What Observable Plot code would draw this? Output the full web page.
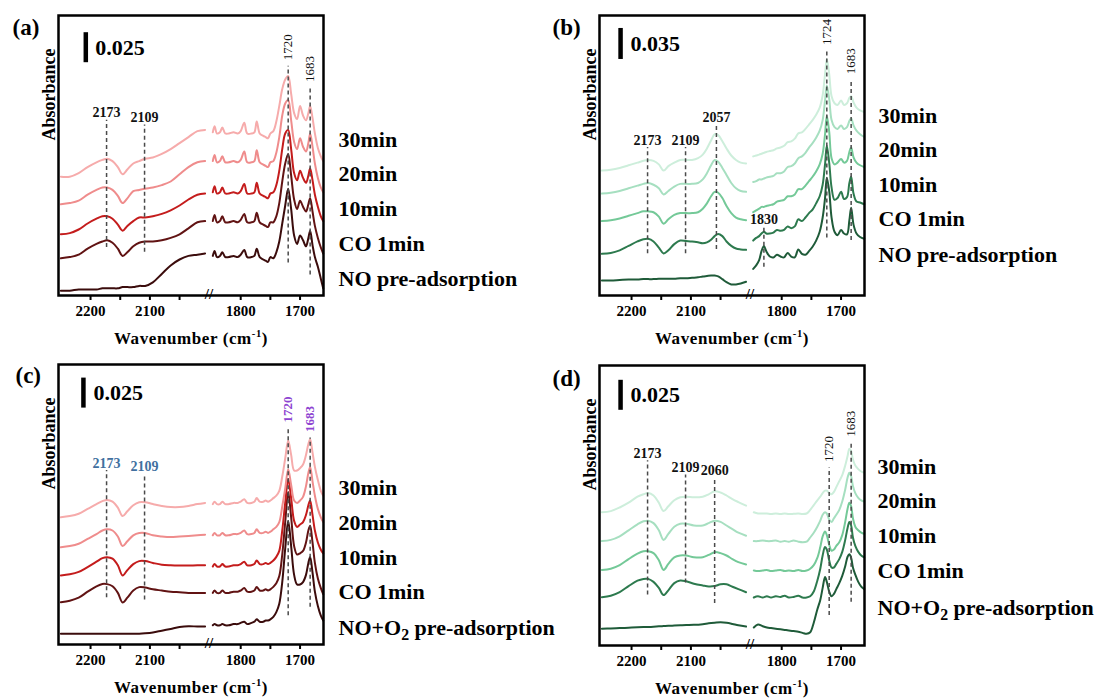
<!DOCTYPE html>
<html>
<head>
<meta charset="utf-8">
<script src="https://cdn.jsdelivr.net/npm/d3@7"></script>
<script src="https://cdn.jsdelivr.net/npm/@observablehq/plot@0.6"></script>
<style>
  html, body { margin: 0; padding: 0; background: #fff; overflow: hidden; }
  #fig { position: relative; width: 1102px; height: 698px; overflow: hidden; background: #fff; }
  .panel { position: absolute; }
</style>
</head>
<body>
<div id="fig"></div>
<script>
// ---------- shared axis values and series names ----------
const tickValues = [2200, 2150, 2100, 2050, 1800, 1750, 1700];
const tickLabels = [2200, 2100, 1800, 1700];
const seriesNO = ["30min", "20min", "10min", "CO 1min", "NO pre-adsorption"];
const seriesNOO2 = ["30min", "20min", "10min", "CO 1min", "NO+O₂ pre-adsorption"];

// absorbance values below are in units of 0.001 (stacked spectra)

// ---------- (a) ----------
const wnLeftA = [2250, 2235, 2220, 2205, 2190, 2180, 2172, 2163, 2154, 2146, 2138, 2128, 2118, 2108, 2095, 2080, 2065, 2050, 2035, 2020, 2007];
const wnRightA = [1847, 1844, 1840, 1835, 1831, 1826, 1820, 1812, 1805, 1800, 1794, 1789, 1782, 1777, 1773, 1768, 1762, 1758, 1754, 1750, 1745, 1740, 1735, 1730, 1725, 1720, 1715, 1710, 1705, 1700, 1695, 1690, 1686, 1683, 1679, 1675, 1670, 1665, 1661];
const a30L = [99, 99, 102, 107, 111, 113, 114, 112, 107, 101, 105, 110, 112, 114, 115, 118, 122, 127, 132, 137, 138];
const a20L = [76, 77, 79, 84, 88, 90, 90, 88, 83, 77, 81, 87, 88, 89, 90, 92, 95, 101, 107, 111, 112];
const a10L = [51, 52, 55, 60, 64, 66, 66, 64, 59, 54, 58, 62, 65, 65, 66, 68, 71, 75, 80, 84, 85];
const aCOL = [31, 32, 34, 39, 43, 45, 46, 44, 39, 33, 36, 41, 44, 45, 45, 46, 48, 51, 56, 61, 62];
const aNOL = [4, 4, 5, 5, 5, 6, 6, 6, 6, 7, 7, 7, 8, 8, 11, 18, 25, 30, 33, 34, 35];
const a30R = [136, 141, 135, 136, 140, 135, 135, 136, 135, 137, 144, 135, 135, 136, 145, 135, 133, 132, 131, 135, 137, 145, 158, 172, 180, 183, 168, 152, 147, 158, 150, 146, 152, 158, 148, 135, 123, 116, 112];
const a20R = [112, 117, 111, 112, 116, 111, 111, 112, 111, 113, 120, 111, 111, 112, 121, 111, 109, 108, 107, 111, 112, 119, 132, 150, 160, 163, 146, 128, 122, 131, 124, 120, 127, 135, 124, 110, 98, 90, 86];
const a10R = [86, 91, 85, 86, 90, 85, 85, 86, 85, 87, 93, 85, 85, 86, 94, 85, 83, 82, 81, 85, 86, 92, 104, 122, 135, 138, 122, 102, 96, 104, 98, 94, 100, 106, 96, 84, 74, 66, 62];
const aCOR = [62, 67, 61, 62, 66, 61, 61, 62, 61, 63, 68, 61, 61, 62, 69, 61, 59, 58, 57, 61, 61, 66, 77, 95, 110, 118, 100, 80, 72, 79, 74, 70, 76, 81, 70, 58, 48, 40, 35];
const aNOR = [33, 37, 32, 33, 36, 32, 32, 33, 32, 34, 38, 32, 32, 33, 39, 32, 30, 29, 28, 32, 31, 36, 45, 60, 75, 89, 72, 50, 43, 50, 46, 41, 48, 54, 42, 32, 24, 14, 6];
const peaksA = [2173, 2109, 1720, 1683];
const scaleA = 0.025;

// ---------- (b) ----------
const wnLeftB = [2250, 2235, 2220, 2205, 2190, 2180, 2172, 2163, 2154, 2146, 2138, 2128, 2118, 2108, 2098, 2088, 2080, 2073, 2066, 2060, 2054, 2047, 2040, 2032, 2024, 2016, 2007];
const wnRightB = [1848, 1843, 1838, 1834, 1830, 1826, 1820, 1814, 1808, 1802, 1796, 1790, 1784, 1778, 1772, 1766, 1760, 1754, 1748, 1742, 1736, 1731, 1727, 1724, 1720, 1716, 1711, 1706, 1700, 1695, 1690, 1686, 1683, 1679, 1674, 1668, 1661];
const b30L = [141, 142, 144, 147, 150, 152, 153, 152, 148, 141, 146, 150, 153, 153, 153, 155, 159, 166, 175, 182, 181, 174, 166, 158, 153, 150, 149];
const b20L = [115, 116, 118, 121, 124, 126, 127, 125, 121, 114, 118, 123, 126, 126, 126, 127, 131, 138, 147, 153, 151, 144, 136, 127, 121, 118, 117];
const b10L = [84, 85, 87, 90, 93, 95, 95, 94, 89, 81, 86, 91, 93, 93, 93, 94, 98, 104, 112, 117, 116, 110, 101, 93, 88, 86, 85];
const bCOL = [47, 48, 51, 56, 61, 63.5, 64, 61, 54, 47.5, 51, 58, 62, 61.5, 61, 60, 59, 60, 63, 67, 69.5, 67, 61, 56, 53, 52, 51.5];
const bNOL = [17, 17, 17.5, 18, 18, 18.5, 18.5, 18.5, 19, 19, 19, 19, 19.5, 19.5, 20, 20.5, 21.5, 22, 22.5, 22.5, 21.5, 18.5, 15, 12.5, 12.5, 13.5, 15.5];
const b30R = [157, 158, 159, 160, 161, 162, 163, 164, 166, 167, 169, 173, 174, 177, 183, 184, 188, 193, 198, 204, 212, 226, 250, 267, 250, 225, 217, 215, 220, 215, 217, 223, 225, 218, 212, 209, 207];
const b20R = [128, 129, 131, 131, 132, 133, 134, 135, 138, 138, 140, 145, 146, 149, 155, 157, 161, 167, 172, 178, 186, 198, 220, 237, 222, 198, 190, 188, 192, 188, 190, 197, 200, 192, 186, 182, 179];
const b10R = [94, 96, 98, 100, 100, 101, 102, 103, 106, 107, 108, 112, 112, 114, 120, 120, 124, 129, 134, 140, 148, 160, 182, 203, 185, 155, 148, 150, 154, 150, 152, 162, 167, 156, 150, 147, 145];
const bCOR = [62, 65, 67, 70, 72, 70, 70, 71, 74, 73, 74, 78, 76, 78, 86, 84, 88, 93, 97, 104, 112, 125, 148, 169, 150, 122, 108, 110, 117, 109, 111, 127, 134, 115, 106, 105, 103];
const bNOR = [30, 34, 40, 50, 56, 50, 44, 43, 46, 44, 43, 48, 44, 43, 52, 47, 46, 50, 55, 62, 72, 88, 110, 133, 118, 88, 72, 68, 74, 70, 69, 85, 99, 80, 70, 66, 64];
const peaksB = [2173, 2109, 2057, 1830, 1724, 1683];
const scaleB = 0.035;

// ---------- (c) ----------
const wnLeftC = wnLeftA;
const wnRightC = wnRightA;
const c30L = [106, 107, 109, 113, 117, 119.5, 120.5, 119, 114, 107, 111, 116, 118.5, 118.5, 117, 115.5, 114.5, 114.5, 115.5, 117, 118];
const c20L = [81, 82, 84, 88, 92, 95, 96, 95, 90, 82, 86, 91, 93, 93, 91, 90, 89.5, 90, 90.5, 91, 91.5];
const c10L = [57.5, 58.5, 60.5, 64.5, 69, 72, 72.8, 71.5, 66, 57.5, 62, 67, 69.5, 69.5, 68, 66.5, 66, 65.8, 65.8, 66, 66];
const cCOL = [35.3, 36.5, 39, 44, 48.5, 50.5, 50.3, 48.5, 43, 35, 39, 45, 47.8, 47.5, 46, 45, 44, 43.5, 43, 43, 43];
const cNOL = [9, 9, 9, 9, 9, 9, 9, 9, 9, 9, 9, 9, 9, 9.3, 10, 11.5, 13, 14.5, 15.2, 15, 15];
const c30R = [117, 119, 117, 117, 119, 117, 117, 118, 118, 119, 121, 118, 118, 119, 122, 119, 119, 120, 119, 120, 122, 124, 128, 140, 155, 170, 158, 145, 145, 147, 150, 158, 167, 171, 160, 148, 137, 128, 124];
const c20R = [91, 93, 91, 91, 93, 91, 91, 92, 92, 93, 95, 92, 92, 93, 96, 93, 93, 94, 93, 94, 96, 98, 102, 115, 130, 146, 133, 120, 118, 120, 123, 132, 143, 148, 136, 124, 113, 106, 102];
const c10R = [65, 67, 65, 65, 67, 65, 65, 66, 66, 67, 69, 66, 66, 67, 70, 67, 67, 68, 67, 68, 70, 73, 78, 95, 118, 138, 122, 103, 98, 100, 102, 108, 116, 120, 108, 95, 85, 79, 76];
const cCOR = [43, 45, 43, 43, 45, 43, 43, 44, 44, 45, 47, 44, 44, 45, 48, 45, 45, 46, 45, 46, 48, 51, 57, 75, 102, 127, 106, 82, 75, 76, 78, 85, 95, 99, 85, 68, 55, 47, 42];
const cNOR = [16, 17, 16, 16, 17, 16, 16, 17, 17, 18, 19, 17, 18, 19, 21, 19, 19, 20, 20, 21, 23, 27, 34, 52, 80, 103, 82, 58, 50, 50, 52, 58, 68, 73, 60, 44, 32, 24, 20];
const peaksC = [2173, 2109, 1720, 1683];
const scaleC = 0.025;

// ---------- (d) ----------
const wnLeftD = [2250, 2235, 2220, 2205, 2190, 2180, 2172, 2163, 2154, 2146, 2138, 2128, 2118, 2108, 2095, 2080, 2070, 2060, 2050, 2040, 2030, 2020, 2007];
const wnRightD = [1847, 1840, 1832, 1825, 1818, 1810, 1802, 1795, 1788, 1780, 1772, 1765, 1758, 1752, 1746, 1740, 1735, 1731, 1727, 1724, 1720, 1716, 1712, 1708, 1703, 1698, 1693, 1689, 1686, 1683, 1680, 1676, 1671, 1666, 1661];
const d30L = [111, 112, 115, 119, 124, 126, 127, 125, 119, 112, 116, 121, 123.5, 124, 123.5, 124, 126, 128.5, 127.5, 125, 122, 119.5, 116.5];
const d20L = [87, 88, 91, 96, 101, 103.5, 104, 102, 96, 88, 93, 99, 101.5, 101.5, 100, 100, 102, 104, 103, 100, 97, 94, 91.5];
const d10L = [63, 64, 67, 72, 76.5, 78.5, 78.6, 77, 71, 63, 68, 73.5, 75, 75, 73.5, 73.5, 75.5, 77.8, 77, 75, 72, 69.5, 67.5];
const dCOL = [40.3, 41.5, 44.5, 49.5, 54, 55.5, 55.5, 53, 48, 42, 46, 52, 54.2, 53.5, 51.5, 50, 49.2, 49.5, 51, 51, 49, 47, 44.4];
const dNOL = [14, 14.2, 14.5, 14.8, 15.2, 15.4, 15.5, 15.7, 16, 16.2, 16.4, 16.6, 16.8, 17, 17.2, 17.8, 18.5, 19, 19.4, 19, 18, 16.8, 15.8];
const d30R = [111, 110, 110, 110, 109.5, 110, 109.5, 110, 109.5, 109.7, 110, 109.5, 110, 113, 117, 121, 124, 127, 129, 129, 127, 126, 128, 132, 137, 142, 150, 158, 164, 162, 155, 150, 147, 145, 144];
const d20R = [87, 87, 87.5, 87, 87, 87.5, 86.5, 87, 86.5, 87.5, 86.5, 86, 86.5, 90, 94, 99, 104, 109, 111, 110, 105, 103, 106, 109, 113, 120, 130, 140, 144, 141, 133, 127, 123, 121, 120];
const d10R = [62.5, 62, 62.5, 63, 62, 62.5, 63, 62, 62.5, 62, 63, 62, 62.5, 64, 67, 73, 82, 91, 95, 92, 84, 79, 80, 83, 86, 92, 103, 114, 119, 116, 106, 99, 96, 94, 93];
const dCOR = [40, 41, 40, 41, 40, 41, 40.5, 41.5, 40, 40.5, 41.5, 40, 40, 41, 45, 54, 64, 75, 82, 80, 71, 65, 65, 68, 72, 78, 88, 98, 103, 100, 90, 83, 78, 75, 73.5];
const dNOR = [15, 17.5, 16, 15, 14.5, 14, 13.5, 13, 12.5, 12, 11.5, 10.5, 9.7, 11, 19, 30, 38, 48, 57, 53, 45, 41, 43, 47, 52, 58, 66, 74, 76, 73, 65, 59, 53, 49, 47];
const peaksD = [2173, 2109, 2060, 1720, 1683];
const scaleD = 0.025;

// ---------- styling ----------
const SERIF = "'Liberation Serif', 'Times New Roman', Times, serif";
const redShades = ["#f6abab", "#ef8c8c", "#c41c1c", "#611313", "#3b0c0c"];
const greenShades = ["#cdeedb", "#a6dfc0", "#74c998", "#2d7a4e", "#1f5b39"];
const PLOT_W = 561, PLOT_H = 348;
const FRAME = {left: 58, right: 323, top: 15, bottom: 295};

// broken wavenumber axis: the empty range between the two windows is squeezed
const GAP_HI = 2006, GAP_LO = 1848, GAP_KEEP = 11;
const squeeze = wn => wn >= GAP_HI ? wn - (GAP_HI - GAP_LO - GAP_KEEP)
  : wn <= GAP_LO ? wn : GAP_LO + (wn - GAP_LO) * GAP_KEEP / (GAP_HI - GAP_LO);
const X_FROM = 2254, X_TO = 1660.5;
const BREAK_AT = 1927;
// axis ticks are placed in squeezed units, labelled with the true wavenumber
const tickAt = new Map(tickValues.map(v => [squeeze(v), v]));

const panels = [
  {
    at: [0, 0], tag: "(a)", tagPos: [12, 27],
    names: seriesNO, colors: redShades, pxPerUnit: 1.2,
    leftWn: wnLeftA, rightWn: wnRightA,
    left: [a30L, a20L, a10L, aCOL, aNOL], right: [a30R, a20R, a10R, aCOR, aNOR],
    peaks: peaksA, guides: [[40, 146, "h"], [36, 142, "h"], [27, 191, "v"], [17, 173, "v"]],
    peakColors: null, peakBold: false,
    scale: scaleA, bar: [2208, 194], barTextWn: 2192,
    legendX: 338, legendY: [139, 173, 208, 243, 278]
  },
  {
    at: [541, 0], tag: "(b)", tagPos: [11, 27],
    names: seriesNO, colors: greenShades, pxPerUnit: 0.886,
    leftWn: wnLeftB, rightWn: wnRightB,
    left: [b30L, b20L, b10L, bCOL, bNOL], right: [b30R, b20R, b10R, bCOR, bNOR],
    peaks: peaksB, guides: [[47, 167, "h"], [47, 167, "h"], [52, 193, "h"], [32, 77, "h"], [65, 276, "v"], [62, 243, "v"]],
    peakColors: null, peakBold: false,
    scale: scaleB, bar: [2218.5, 266.4], barTextWn: 2201.7,
    legendX: 337, legendY: [115, 149, 184, 218, 254]
  },
  {
    at: [0, 349], tag: "(c)", tagPos: [15, 26],
    names: seriesNOO2, colors: redShades, pxPerUnit: 1.2,
    leftWn: wnLeftC, rightWn: wnRightC,
    left: [c30L, c20L, c10L, cCOL, cNOL], right: [c30R, c20R, c10R, cCOR, cNOR],
    peaks: peaksC, guides: [[39, 145, "h"], [37, 142, "h"], [24, 180, "v"], [31, 172, "v"]],
    peakColors: ["#41709f", "#41709f", "#8e44d1", "#8e44d1"], peakBold: true,
    scale: scaleC, bar: [2212, 197], barTextWn: 2195,
    legendX: 338, legendY: [138, 173, 208, 242, 278]
  },
  {
    at: [541, 350], tag: "(d)", tagPos: [11, 28],
    names: seriesNOO2, colors: greenShades, pxPerUnit: 1.2,
    leftWn: wnLeftD, rightWn: wnRightD,
    left: [d30L, d20L, d10L, dCOL, dNOL], right: [d30R, d20R, d10R, dCOR, dNOR],
    peaks: peaksD, guides: [[42, 154, "h"], [52, 142, "h"], [35, 140, "h"], [25, 148, "v"], [36, 169, "v"]],
    peakColors: null, peakBold: false,
    scale: scaleD, bar: [2218.5, 196], barTextWn: 2201.7,
    legendX: 336, legendY: [116, 150, 185, 220, 257]
  }
];

// Turn unicode sub/superscripts into shifted tspans so they render like the typeset labels
function typeset(svg) {
  d3.select(svg).selectAll("text").each(function () {
    const s = this.textContent;
    if (s.startsWith("Wavenumber")) this.setAttribute("letter-spacing", "0.6");
    if (!/[₂⁻]/.test(s)) return;
    const parts = s.split(/(₂|⁻¹)/).filter(Boolean);
    const sel = d3.select(this);
    sel.text(null);
    let shift = 0;
    for (const part of parts) {
      const t = sel.append("tspan");
      if (part === "₂") { t.attr("dy", 5).attr("font-size", "0.72em").text("2"); shift = 5; }
      else if (part === "⁻¹") { t.attr("dy", -7).attr("font-size", "0.62em").text("-1"); shift = -7; }
      else { if (shift) t.attr("dy", -shift); shift = 0; t.text(part); }
    }
  });
}

function drawPanel(p) {
  // one row per sampled point; the two wavenumber windows are separate line pieces
  const rows = [];
  for (let i = p.names.length - 1; i >= 0; i--) {
    const name = p.names[i];
    p.left[i].forEach((v, j) => rows.push({name, seg: "L", wn: p.leftWn[j], v}));
    p.right[i].forEach((v, j) => rows.push({name, seg: "R", wn: p.rightWn[j], v}));
  }
  const guides = p.peaks.map((wn, i) => ({
    wn, y1: p.guides[i][0], y2: p.guides[i][1], kind: p.guides[i][2],
    color: p.peakColors ? p.peakColors[i] : "#111"
  }));
  const colorSet = [...new Set(guides.map(d => d.color))];
  const barRow = {wn: p.bar[0], textWn: p.barTextWn, y1: p.bar[1], y2: p.bar[1] + p.scale * 1000, value: p.scale};

  const marks = [
    Plot.line(rows, {x: "wn", y: "v", z: d => d.name + d.seg, stroke: "name", strokeWidth: 2, curve: "catmull-rom"}),
    Plot.ruleX(guides, {x: "wn", y1: "y1", y2: "y2", stroke: "#4a4a4a", strokeWidth: 1.5, strokeDasharray: "4,3"}),
    Plot.frame({stroke: "#000", strokeWidth: 2.5}),
    Plot.axisX({
      ticks: [...tickAt.keys()],
      tickFormat: t => tickLabels.includes(tickAt.get(t)) ? String(tickAt.get(t)) : "",
      tickSize: 5, tickPadding: 5, strokeWidth: 2, fontSize: 15, fontWeight: "bold"
    }),
    // axis break marker between the two wavenumber windows
    Plot.text([{wn: BREAK_AT}], {x: "wn", frameAnchor: "bottom", text: () => "//", fontSize: 15, fontWeight: "bold", lineAnchor: "middle", dy: -1}),
    // scale bar
    Plot.ruleX([barRow], {x: "wn", y1: "y1", y2: "y2", stroke: "#000", strokeWidth: 4.5}),
    Plot.text([barRow], {x: "textWn", y: d => (d.y1 + d.y2) / 2, text: d => d.value.toFixed(3), textAnchor: "start", lineAnchor: "middle", fontSize: 22, fontWeight: "bold"}),
    // panel tag, axis titles
    Plot.text([p.tag], {frameAnchor: "top-left", text: d => d, dx: p.tagPos[0] - FRAME.left, dy: p.tagPos[1] - FRAME.top, textAnchor: "start", lineAnchor: "middle", fontSize: 23, fontWeight: "bold"}),
    Plot.text(["Absorbance"], {frameAnchor: "left", text: d => d, rotate: -90, dx: -9, dy: -15, fontSize: 18, fontWeight: "bold"}),
    Plot.text(["Wavenumber (cm⁻¹)"], {frameAnchor: "bottom", text: d => d, dy: 43, lineAnchor: "middle", fontSize: 17, fontWeight: "bold"})
  ];
  for (const c of colorSet) {
    marks.push(Plot.text(guides.filter(d => d.color === c && d.kind === "h"), {
      x: "wn", y: "y2", text: d => String(d.wn), lineAnchor: "bottom", dy: -3,
      fontSize: 14, fontWeight: "bold", fill: c
    }));
    marks.push(Plot.text(guides.filter(d => d.color === c && d.kind === "v"), {
      x: "wn", y: "y2", text: d => String(d.wn), rotate: -90, textAnchor: "start", lineAnchor: "middle", dy: -6,
      fontSize: 13, fontWeight: p.peakBold ? "bold" : "normal", fill: c
    }));
  }
  p.names.forEach((name, i) => {
    marks.push(Plot.text([name], {
      frameAnchor: "top-right", text: d => d, dx: p.legendX - FRAME.right, dy: p.legendY[i] - FRAME.top,
      textAnchor: "start", lineAnchor: "middle", fontSize: 22, fontWeight: "bold"
    }));
  });

  const svg = Plot.plot({
    width: PLOT_W, height: PLOT_H,
    marginTop: FRAME.top, marginBottom: PLOT_H - FRAME.bottom,
    marginLeft: FRAME.left, marginRight: PLOT_W - FRAME.right,
    x: {type: "linear", transform: squeeze, domain: [squeeze(X_FROM), squeeze(X_TO)]},
    y: {domain: [0, (FRAME.bottom - FRAME.top) / p.pxPerUnit], axis: null},
    color: {domain: p.names, range: p.colors},
    style: {fontFamily: SERIF, fontSize: "15px", fontWeight: "bold", color: "#000", background: "transparent", overflow: "visible"},
    marks
  });
  typeset(svg);
  const holder = document.createElement("div");
  holder.className = "panel";
  holder.style.left = p.at[0] + "px";
  holder.style.top = p.at[1] + "px";
  holder.appendChild(svg);
  document.getElementById("fig").appendChild(holder);
}

panels.forEach(drawPanel);
</script>
</body>
</html>
